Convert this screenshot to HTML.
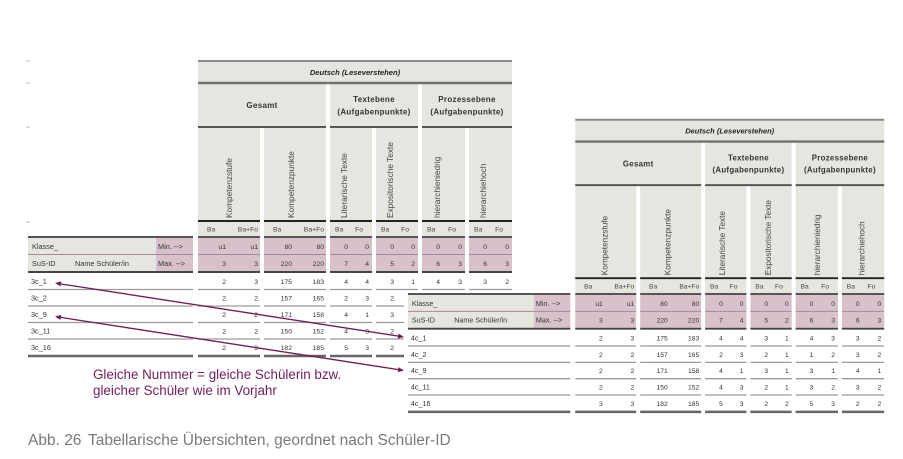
<!DOCTYPE html>
<html><head><meta charset="utf-8">
<style>
html,body{margin:0;padding:0;background:#fff;}
body{width:903px;height:459px;overflow:hidden;}
svg{display:block;}
.h{font-family:"Liberation Sans",sans-serif;font-style:italic;font-weight:bold;font-size:7.6px;fill:#222;}
.b{font-family:"Liberation Sans",sans-serif;font-weight:bold;font-size:8px;fill:#333;letter-spacing:0.3px;}
.r{font-family:"Liberation Sans",sans-serif;font-size:8.3px;fill:#444;}
.s{font-family:"Liberation Sans",sans-serif;font-size:6.8px;fill:#444;}
.l{font-family:"Liberation Sans",sans-serif;font-size:7.3px;fill:#333;}
.n{font-family:"Liberation Sans",sans-serif;font-size:6.8px;fill:#333;text-anchor:end;}
.e{text-anchor:end;}
</style></head>
<body>
<svg width="903" height="459" viewBox="0 0 903 459" xmlns="http://www.w3.org/2000/svg">
<rect width="903" height="459" fill="#fff"/>
<!-- faint ticks -->
<path stroke="#d4d4d4" stroke-width="1.5" d="M26 61H30M26 83H30M26 127H30M26 222H30"/>

<!-- LEFT TABLE -->
<g>
<rect x="198" y="62" width="314" height="20" fill="#e6e6e1"/>
<path fill="#e6e6e1" d="M198 84h128v42h-128zM330 84h88v42h-88zM422 84h90v42h-90zM198 128h62v108h-62zM264 128h62v108h-62zM330 128h42v108h-42zM376 128h42v108h-42zM422 128h43v108h-43zM469 128h43v108h-43zM28 238h128v33h-128z"/>
<path fill="#d9c1cc" d="M156 238h37v33h-37zM198 238h62v33h-62zM264 238h62v33h-62zM330 238h42v33h-42zM376 238h42v33h-42zM422 238h43v33h-43zM469 238h43v33h-43z"/>
<path fill="none" stroke="#8a8a8a" stroke-width="2" d="M198 61H512"/>
<path fill="none" stroke="#707070" stroke-width="2.5" d="M198 83H512"/>
<path fill="none" stroke="#555" stroke-width="2" d="M198 127H326M330 127H418M422 127H512"/>
<path fill="none" stroke="#222" stroke-width="2" d="M198 221H260M264 221H326M330 221H372M376 221H418M422 221H465M469 221H512"/>
<path fill="none" stroke="#555" stroke-width="2" d="M28 237H193M198 237H260M264 237H326M330 237H372M376 237H418M422 237H465M469 237H512"/>
<path fill="none" stroke="#a08c96" stroke-width="1" d="M28 254.5H193M198 254.5H260M264 254.5H326M330 254.5H372M376 254.5H418M422 254.5H465M469 254.5H512"/>
<path fill="none" stroke="#444" stroke-width="2" d="M28 272H193M198 272H260M264 272H326M330 272H372M376 272H418M422 272H465M469 272H512"/>
<path fill="none" stroke="#9a9a9a" stroke-width="1.3" d="M28 289.5H193M198 289.5H260M264 289.5H326M330 289.5H372M376 289.5H418M422 289.5H465M469 289.5H512M28 306H193M198 306H260M264 306H326M330 306H372M376 306H418M422 306H465M469 306H512M28 322.5H193M198 322.5H260M264 322.5H326M330 322.5H372M376 322.5H418M422 322.5H465M469 322.5H512M28 339H193M198 339H260M264 339H326M330 339H372M376 339H418M422 339H465M469 339H512"/>
<path fill="none" stroke="#666" stroke-width="2.5" d="M28 356H193M198 356H260M264 356H326M330 356H372M376 356H418M422 356H465M469 356H512"/>

<text class="h" x="355" y="75" text-anchor="middle">Deutsch (Leseverstehen)</text>
<text class="b" x="262" y="108" text-anchor="middle">Gesamt</text>
<text class="b" x="374" y="102" text-anchor="middle">Textebene</text>
<text class="b" x="374" y="114.5" text-anchor="middle">(Aufgabenpunkte)</text>
<text class="b" x="467" y="102" text-anchor="middle">Prozessebene</text>
<text class="b" x="467" y="114.5" text-anchor="middle">(Aufgabenpunkte)</text>

<text class="r" transform="translate(232,218) rotate(-90)">Kompetenzstufe</text>
<text class="r" transform="translate(294,218) rotate(-90)">Kompetenzpunkte</text>
<text class="r" transform="translate(347,218) rotate(-90)">Literarische Texte</text>
<text class="r" transform="translate(393,218) rotate(-90)">Expositorische Texte</text>
<text class="r" transform="translate(440,218) rotate(-90)">hierarchieniedrig</text>
<text class="r" transform="translate(486,218) rotate(-90)">hierarchiehoch</text>

<text class="s" y="231.5"><tspan x="207">Ba</tspan><tspan x="273">Ba</tspan><tspan x="335">Ba</tspan><tspan x="381">Ba</tspan><tspan x="427">Ba</tspan><tspan x="474">Ba</tspan></text>
<text class="s e" y="231.5"><tspan x="258">Ba+Fo</tspan><tspan x="324">Ba+Fo</tspan><tspan x="363">Fo</tspan><tspan x="409">Fo</tspan><tspan x="456">Fo</tspan><tspan x="503">Fo</tspan></text>

<text class="l" x="32" y="249">Klasse_</text>
<text class="l" x="32" y="266">SuS-ID</text>
<text class="l" x="75" y="266">Name Schüler/in</text>
<text class="l" x="158" y="249">Min. --&gt;</text>
<text class="l" x="158" y="266">Max. --&gt;</text>

<text class="n" y="249"><tspan x="226">u1</tspan><tspan x="258">u1</tspan><tspan x="292">80</tspan><tspan x="324">80</tspan><tspan x="348">0</tspan><tspan x="369">0</tspan><tspan x="394">0</tspan><tspan x="415">0</tspan><tspan x="440">0</tspan><tspan x="462">0</tspan><tspan x="487">0</tspan><tspan x="509">0</tspan></text>
<text class="n" y="266"><tspan x="226">3</tspan><tspan x="258">3</tspan><tspan x="292">220</tspan><tspan x="324">220</tspan><tspan x="348">7</tspan><tspan x="369">4</tspan><tspan x="394">5</tspan><tspan x="415">2</tspan><tspan x="440">6</tspan><tspan x="462">3</tspan><tspan x="487">6</tspan><tspan x="509">3</tspan></text>

<text class="l" x="31" y="284">3c_1</text>
<text class="l" x="31" y="300.5">3c_2</text>
<text class="l" x="31" y="317">3c_9</text>
<text class="l" x="31" y="333.5">3c_11</text>
<text class="l" x="31" y="350">3c_16</text>

<text class="n" y="284"><tspan x="226">2</tspan><tspan x="258">3</tspan><tspan x="292">175</tspan><tspan x="324">183</tspan><tspan x="348">4</tspan><tspan x="369">4</tspan><tspan x="394">3</tspan><tspan x="415">1</tspan><tspan x="440">4</tspan><tspan x="462">3</tspan><tspan x="487">3</tspan><tspan x="509">2</tspan></text>
<text class="n" y="300.5"><tspan x="226">2</tspan><tspan x="258">2</tspan><tspan x="292">157</tspan><tspan x="324">165</tspan><tspan x="348">2</tspan><tspan x="369">3</tspan><tspan x="394">2</tspan><tspan x="415">1</tspan><tspan x="440">1</tspan><tspan x="462">2</tspan><tspan x="487">3</tspan><tspan x="509">2</tspan></text>
<text class="n" y="317"><tspan x="226">2</tspan><tspan x="258">2</tspan><tspan x="292">171</tspan><tspan x="324">158</tspan><tspan x="348">4</tspan><tspan x="369">1</tspan><tspan x="394">3</tspan><tspan x="415">1</tspan><tspan x="440">3</tspan><tspan x="462">1</tspan><tspan x="487">4</tspan><tspan x="509">1</tspan></text>
<text class="n" y="333.5"><tspan x="226">2</tspan><tspan x="258">2</tspan><tspan x="292">150</tspan><tspan x="324">152</tspan><tspan x="348">4</tspan><tspan x="369">3</tspan><tspan x="394">2</tspan><tspan x="415">1</tspan><tspan x="440">3</tspan><tspan x="462">2</tspan><tspan x="487">3</tspan><tspan x="509">2</tspan></text>
<text class="n" y="350"><tspan x="226">2</tspan><tspan x="258">3</tspan><tspan x="292">182</tspan><tspan x="324">185</tspan><tspan x="348">5</tspan><tspan x="369">3</tspan><tspan x="394">2</tspan><tspan x="415">2</tspan><tspan x="440">5</tspan><tspan x="462">3</tspan><tspan x="487">2</tspan><tspan x="509">2</tspan></text>
</g>

<!-- white backing of right table -->
<rect x="404" y="291" width="492" height="126" fill="#fff"/>

<!-- RIGHT TABLE -->
<g transform="matrix(0.984,0,0,0.99,380.4,59.4)">
<rect x="198" y="62" width="314" height="20" fill="#e6e6e1"/>
<path fill="#e6e6e1" d="M198 84h128v42h-128zM330 84h88v42h-88zM422 84h90v42h-90zM198 128h62v108h-62zM264 128h62v108h-62zM330 128h42v108h-42zM376 128h42v108h-42zM422 128h43v108h-43zM469 128h43v108h-43zM28 238h128v33h-128z"/>
<path fill="#d9c1cc" d="M156 238h37v33h-37zM198 238h62v33h-62zM264 238h62v33h-62zM330 238h42v33h-42zM376 238h42v33h-42zM422 238h43v33h-43zM469 238h43v33h-43z"/>
<path fill="none" stroke="#8a8a8a" stroke-width="2" d="M198 61H512"/>
<path fill="none" stroke="#707070" stroke-width="2.5" d="M198 83H512"/>
<path fill="none" stroke="#555" stroke-width="2" d="M198 127H326M330 127H418M422 127H512"/>
<path fill="none" stroke="#222" stroke-width="2" d="M198 221H260M264 221H326M330 221H372M376 221H418M422 221H465M469 221H512"/>
<path fill="none" stroke="#555" stroke-width="2" d="M28 237H193M198 237H260M264 237H326M330 237H372M376 237H418M422 237H465M469 237H512"/>
<path fill="none" stroke="#a08c96" stroke-width="1" d="M28 254.5H193M198 254.5H260M264 254.5H326M330 254.5H372M376 254.5H418M422 254.5H465M469 254.5H512"/>
<path fill="none" stroke="#444" stroke-width="2" d="M28 272H193M198 272H260M264 272H326M330 272H372M376 272H418M422 272H465M469 272H512"/>
<path fill="none" stroke="#9a9a9a" stroke-width="1.3" d="M28 289.5H193M198 289.5H260M264 289.5H326M330 289.5H372M376 289.5H418M422 289.5H465M469 289.5H512M28 306H193M198 306H260M264 306H326M330 306H372M376 306H418M422 306H465M469 306H512M28 322.5H193M198 322.5H260M264 322.5H326M330 322.5H372M376 322.5H418M422 322.5H465M469 322.5H512M28 339H193M198 339H260M264 339H326M330 339H372M376 339H418M422 339H465M469 339H512"/>
<path fill="none" stroke="#666" stroke-width="2.5" d="M28 356H193M198 356H260M264 356H326M330 356H372M376 356H418M422 356H465M469 356H512"/>

<text class="h" x="355" y="75" text-anchor="middle">Deutsch (Leseverstehen)</text>
<text class="b" x="262" y="108" text-anchor="middle">Gesamt</text>
<text class="b" x="374" y="102" text-anchor="middle">Textebene</text>
<text class="b" x="374" y="114.5" text-anchor="middle">(Aufgabenpunkte)</text>
<text class="b" x="467" y="102" text-anchor="middle">Prozessebene</text>
<text class="b" x="467" y="114.5" text-anchor="middle">(Aufgabenpunkte)</text>

<text class="r" transform="translate(231,218) rotate(-90)">Kompetenzstufe</text>
<text class="r" transform="translate(295,218) rotate(-90)">Kompetenzpunkte</text>
<text class="r" transform="translate(350,218) rotate(-90)">Literarische Texte</text>
<text class="r" transform="translate(397,218) rotate(-90)">Expositorische Texte</text>
<text class="r" transform="translate(447,218) rotate(-90)">hierarchieniedrig</text>
<text class="r" transform="translate(492,218) rotate(-90)">hierarchiehoch</text>

<text class="s" y="231.5"><tspan x="207">Ba</tspan><tspan x="273">Ba</tspan><tspan x="335">Ba</tspan><tspan x="381">Ba</tspan><tspan x="427">Ba</tspan><tspan x="474">Ba</tspan></text>
<text class="s e" y="231.5"><tspan x="258">Ba+Fo</tspan><tspan x="324">Ba+Fo</tspan><tspan x="363">Fo</tspan><tspan x="409">Fo</tspan><tspan x="456">Fo</tspan><tspan x="503">Fo</tspan></text>

<text class="l" x="32" y="249">Klasse_</text>
<text class="l" x="32" y="266">SuS-ID</text>
<text class="l" x="75" y="266">Name Schüler/in</text>
<text class="l" x="158" y="249">Min. --&gt;</text>
<text class="l" x="158" y="266">Max. --&gt;</text>

<text class="n" y="249"><tspan x="226">u1</tspan><tspan x="258">u1</tspan><tspan x="292">80</tspan><tspan x="324">80</tspan><tspan x="348">0</tspan><tspan x="369">0</tspan><tspan x="394">0</tspan><tspan x="415">0</tspan><tspan x="440">0</tspan><tspan x="462">0</tspan><tspan x="487">0</tspan><tspan x="509">0</tspan></text>
<text class="n" y="266"><tspan x="226">3</tspan><tspan x="258">3</tspan><tspan x="292">220</tspan><tspan x="324">220</tspan><tspan x="348">7</tspan><tspan x="369">4</tspan><tspan x="394">5</tspan><tspan x="415">2</tspan><tspan x="440">6</tspan><tspan x="462">3</tspan><tspan x="487">6</tspan><tspan x="509">3</tspan></text>

<text class="l" x="31" y="284">4c_1</text>
<text class="l" x="31" y="300.5">4c_2</text>
<text class="l" x="31" y="317">4c_9</text>
<text class="l" x="31" y="333.5">4c_11</text>
<text class="l" x="31" y="350">4c_16</text>

<text class="n" y="284"><tspan x="226">2</tspan><tspan x="258">3</tspan><tspan x="292">175</tspan><tspan x="324">183</tspan><tspan x="348">4</tspan><tspan x="369">4</tspan><tspan x="394">3</tspan><tspan x="415">1</tspan><tspan x="440">4</tspan><tspan x="462">3</tspan><tspan x="487">3</tspan><tspan x="509">2</tspan></text>
<text class="n" y="300.5"><tspan x="226">2</tspan><tspan x="258">2</tspan><tspan x="292">157</tspan><tspan x="324">165</tspan><tspan x="348">2</tspan><tspan x="369">3</tspan><tspan x="394">2</tspan><tspan x="415">1</tspan><tspan x="440">1</tspan><tspan x="462">2</tspan><tspan x="487">3</tspan><tspan x="509">2</tspan></text>
<text class="n" y="317"><tspan x="226">2</tspan><tspan x="258">2</tspan><tspan x="292">171</tspan><tspan x="324">158</tspan><tspan x="348">4</tspan><tspan x="369">1</tspan><tspan x="394">3</tspan><tspan x="415">1</tspan><tspan x="440">3</tspan><tspan x="462">1</tspan><tspan x="487">4</tspan><tspan x="509">1</tspan></text>
<text class="n" y="333.5"><tspan x="226">2</tspan><tspan x="258">2</tspan><tspan x="292">150</tspan><tspan x="324">152</tspan><tspan x="348">4</tspan><tspan x="369">3</tspan><tspan x="394">2</tspan><tspan x="415">1</tspan><tspan x="440">3</tspan><tspan x="462">2</tspan><tspan x="487">3</tspan><tspan x="509">2</tspan></text>
<text class="n" y="350"><tspan x="226">3</tspan><tspan x="258">3</tspan><tspan x="292">182</tspan><tspan x="324">185</tspan><tspan x="348">5</tspan><tspan x="369">3</tspan><tspan x="394">2</tspan><tspan x="415">2</tspan><tspan x="440">5</tspan><tspan x="462">3</tspan><tspan x="487">2</tspan><tspan x="509">2</tspan></text>
</g>

<!-- arrows -->
<g stroke="#6b2050" stroke-width="1.3" fill="#6b2050">
<line x1="58" y1="283.5" x2="401" y2="336.5"/>
<line x1="58" y1="317" x2="401" y2="370"/>
<polygon stroke="none" points="404,337 398.5,333.6 397.7,338.6"/>
<polygon stroke="none" points="55,283 61.3,281.4 60.5,286.4"/>
<polygon stroke="none" points="404,370.5 398.5,367.1 397.7,372.1"/>
<polygon stroke="none" points="55,316.5 61.3,314.9 60.5,319.9"/>
</g>

<!-- annotation -->
<text x="93" y="379" font-family="'Liberation Sans',sans-serif" font-size="13.4" fill="#74205f">Gleiche Nummer = gleiche Schülerin bzw.</text>
<text x="93" y="395" font-family="'Liberation Sans',sans-serif" font-size="13.4" fill="#74205f">gleicher Schüler wie im Vorjahr</text>

<!-- caption -->
<text x="28" y="445" font-family="'Liberation Sans',sans-serif" font-size="15.5" fill="#7a7a7a">Abb. 26</text>
<text x="88" y="445" font-family="'Liberation Sans',sans-serif" font-size="15.5" fill="#7a7a7a">Tabellarische Übersichten, geordnet nach Schüler-ID</text>
</svg>
</body></html>
